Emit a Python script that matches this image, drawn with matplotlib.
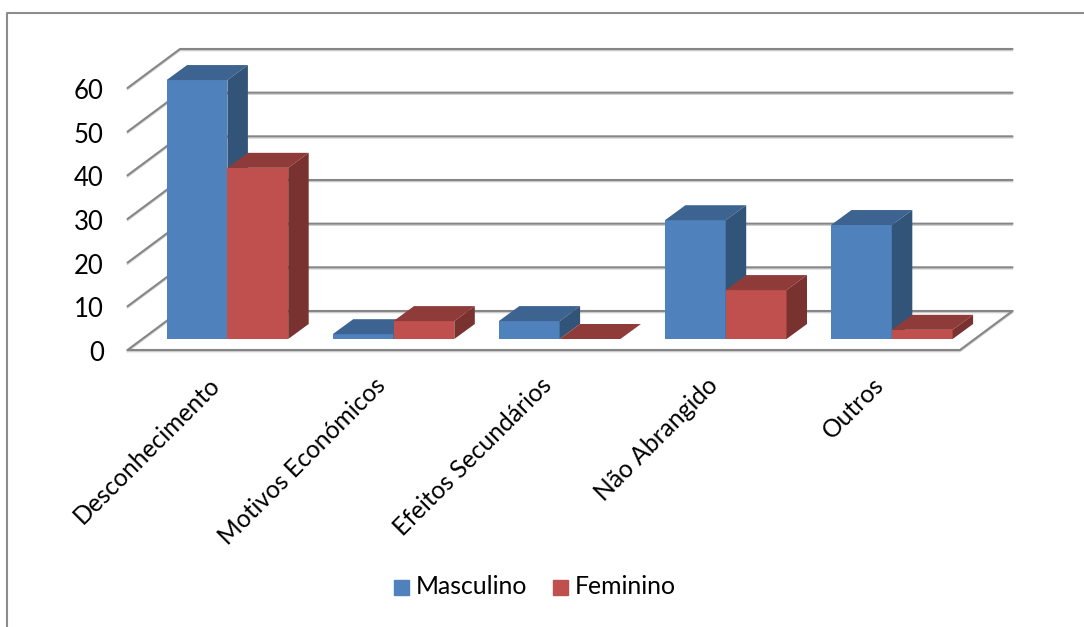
import numpy as np
import matplotlib
matplotlib.use("Agg")
import matplotlib.pyplot as plt
from matplotlib.transforms import Affine2D

plt.rcParams['font.family'] = ['Lato', 'DejaVu Sans']

categories = ["Desconhecimento", "Motivos Económicos", "Efeitos Secundários", "Não Abrangido", "Outros"]
masculino = [59.3, 1.1, 4.1, 27.2, 26.1]
feminino = [39.2, 4.1, 0, 11.2, 2.1]
y_ticks = [0, 10, 20, 30, 40, 50, 60]

W, H = 1084, 627
fig = plt.figure(figsize=(W / 100, H / 100), dpi=100)

# front plane of the plot box, in pixels
left, right, top, bottom = 127.5, 960, 88, 350
ax = fig.add_axes([left / W, 1 - bottom / H, (right - left) / W, (bottom - top) / H])
x_min, x_max = -0.5, 4.512
ax.patch.set_alpha(0)
for s in ax.spines.values():
    s.set_visible(False)

# pixel -> data sizes for the fake 3d depth
px_x = (x_max - x_min) / (right - left)
px_y = 60 / (bottom - top)
wall_dx, wall_dy = 52.5 * px_x, 39 * px_y
gap_dx, gap_dy = 16.85 * px_x, 11 * px_y
bar_dx, bar_dy = 20.5 * px_x, 15 * px_y
bar_w = 60.8 * px_x

grid = "#868686"
shadow = "#cfcfcf"


def line(xs, ys, z=1):
    ax.plot(xs, ys, color=shadow, lw=1.0, zorder=z - 0.1, clip_on=False,
            transform=ax.transData + Affine2D().translate(0, -1.6))
    ax.plot(xs, ys, color=grid, lw=1.5, zorder=z, clip_on=False, solid_capstyle="round")


# walls
for v in y_ticks:
    line([x_min, x_min + wall_dx, x_max + wall_dx], [v, v + wall_dy, v + wall_dy])
line([x_min, x_max, x_max + wall_dx], [0, 0, wall_dy])


def bar3d(x, v, front, side, tops, z):
    x0 = x + gap_dx
    y0 = gap_dy
    ax.bar(x0, v, width=bar_w, bottom=y0, align="edge", color=front, zorder=z, linewidth=0, clip_on=False)
    ax.fill([x0, x0 + bar_dx, x0 + bar_w + bar_dx, x0 + bar_w],
            [y0 + v, y0 + v + bar_dy, y0 + v + bar_dy, y0 + v], color=tops, zorder=z, lw=0, clip_on=False)
    ax.fill([x0 + bar_w, x0 + bar_w + bar_dx, x0 + bar_w + bar_dx, x0 + bar_w],
            [y0, y0 + bar_dy, y0 + v + bar_dy, y0 + v], color=side, zorder=z, lw=0, clip_on=False)


for i in range(len(categories)):
    bar3d(i - bar_w, masculino[i], "#4F81BD", "#335479", "#3D6390", 3 + i)
    bar3d(i, feminino[i], "#C0504D", "#7A3230", "#8F3B39", 3.5 + i)

ax.set_xlim(x_min, x_max)
ax.set_ylim(0, 60)
ax.set_yticks(y_ticks)
ax.set_xticks(range(len(categories)))
ax.set_xticklabels(categories, rotation=45, ha="right", rotation_mode="anchor", fontsize=17.7, color="black")
ax.tick_params(axis="x", length=0, pad=14)
ax.tick_params(axis="y", length=0, pad=17, labelsize=18.5, labelcolor="black")
for lab in ax.get_xticklabels():
    lab.set_transform(lab.get_transform() + Affine2D().translate(-3, -4))
for lab in ax.get_yticklabels():
    lab.set_transform(lab.get_transform() + Affine2D().translate(0, -1))

# outer chart frame
fig.add_artist(plt.Line2D([6.5 / W, 6.5 / W, 1], [0, 1 - 12.5 / H, 1 - 12.5 / H],
                          color="#8c8c8c", lw=1.5))

# legend
fig.patches.append(plt.Rectangle((394 / W, 1 - 595 / H), 15 / W, 15 / H, transform=fig.transFigure, color="#4F81BD"))
fig.patches.append(plt.Rectangle((553 / W, 1 - 595 / H), 15 / W, 15 / H, transform=fig.transFigure, color="#C0504D"))
fig.text(416 / W, 1 - 587 / H, "Masculino", fontsize=17.8, va="center", ha="left")
fig.text(575 / W, 1 - 587 / H, "Feminino", fontsize=17.8, va="center", ha="left")

fig.savefig("out.png", dpi=100, facecolor="white")
